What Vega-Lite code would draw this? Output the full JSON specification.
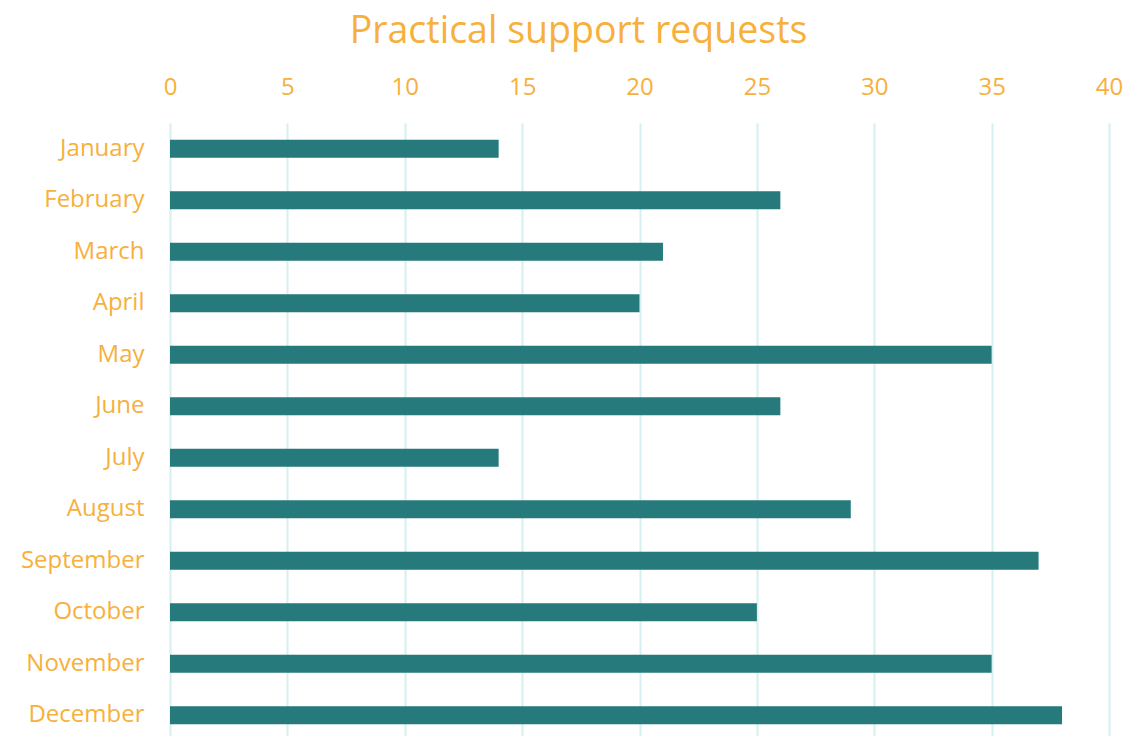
{
  "$schema": "https://vega.github.io/schema/vega-lite/v6.json",
  "autosize": {"type": "none"},
  "padding": {"left": 170, "top": 123, "right": 35, "bottom": 0},
  "width": 939,
  "height": 618,
  "background": "#ffffff",
  "title": {
    "text": "Practical support requests",
    "font": "Open Sans",
    "fontSize": 37.5,
    "fontWeight": "normal",
    "color": "#f7b03c",
    "anchor": "middle",
    "frame": "group",
    "dx": -61,
    "offset": 25
  },
  "data": {
    "values": [
      {"month": "January", "requests": 14},
      {"month": "February", "requests": 26},
      {"month": "March", "requests": 21},
      {"month": "April", "requests": 20},
      {"month": "May", "requests": 35},
      {"month": "June", "requests": 26},
      {"month": "July", "requests": 14},
      {"month": "August", "requests": 29},
      {"month": "September", "requests": 37},
      {"month": "October", "requests": 25},
      {"month": "November", "requests": 35},
      {"month": "December", "requests": 38}
    ]
  },
  "mark": {"type": "bar", "color": "#267a7c"},
  "encoding": {
    "y": {
      "field": "month",
      "type": "nominal",
      "sort": null,
      "scale": {"paddingInner": 0.65, "paddingOuter": 0.325},
      "axis": {
        "title": null,
        "domain": false,
        "ticks": false,
        "grid": false,
        "labelFont": "Open Sans",
        "labelFontSize": 24,
        "labelColor": "#f7b03c",
        "labelPadding": 26
      }
    },
    "x": {
      "field": "requests",
      "type": "quantitative",
      "scale": {"domain": [0, 40], "nice": false},
      "axis": {
        "orient": "top",
        "title": null,
        "domain": false,
        "ticks": false,
        "values": [0, 5, 10, 15, 20, 25, 30, 35, 40],
        "grid": true,
        "gridColor": "#d6f0f1",
        "gridWidth": 2,
        "labelFont": "Open Sans",
        "labelFontSize": 24,
        "labelFlush": false,
        "labelColor": "#f7b03c",
        "labelPadding": 24
      }
    }
  },
  "config": {"view": {"stroke": null}}
}
